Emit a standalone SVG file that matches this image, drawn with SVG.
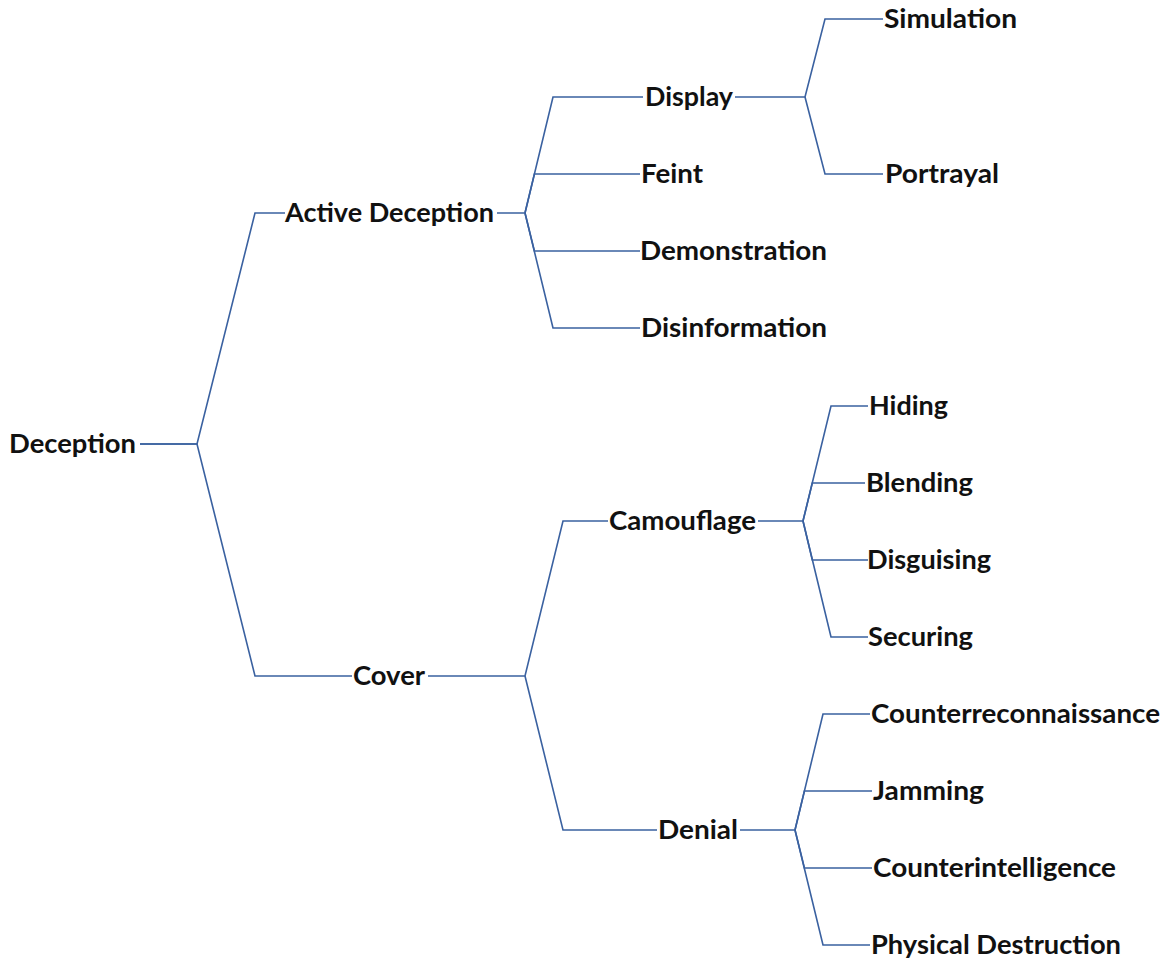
<svg xmlns="http://www.w3.org/2000/svg" width="1167" height="961" viewBox="0 0 1167 961">
<style>
.lbl{font-family:"Lato","Liberation Sans",sans-serif;font-weight:bold;font-size:27px;fill:#111111}
.cn{fill:none;stroke:#3A61A0;stroke-width:1.6;stroke-linejoin:miter}
</style>
<rect width="1167" height="961" fill="#ffffff"/>
<g id="connectors">
<path class="cn" d="M140,444 H197 L255,213 H285"/>
<path class="cn" d="M140,444 H197 L255,676 H352"/>
<path class="cn" d="M497,213 H525 L553,97 H643"/>
<path class="cn" d="M525,213 L534.4,174 H640"/>
<path class="cn" d="M525,213 L534.4,251 H640"/>
<path class="cn" d="M525,213 L553,328 H640"/>
<path class="cn" d="M735,97 H805 L825,19 H883"/>
<path class="cn" d="M805,97 L825,174 H883"/>
<path class="cn" d="M428,676 H525 L563,521 H608"/>
<path class="cn" d="M525,676 L563,830 H657"/>
<path class="cn" d="M758,521 H803 L831,406 H868"/>
<path class="cn" d="M803,521 L812.3,483 H865"/>
<path class="cn" d="M803,521 L812.3,560 H868"/>
<path class="cn" d="M803,521 L831,637 H868"/>
<path class="cn" d="M740,830 H795 L823,714 H870"/>
<path class="cn" d="M795,830 L804.4,791 H872"/>
<path class="cn" d="M795,830 L804.4,868 H872"/>
<path class="cn" d="M795,830 L823,945 H870"/>
</g>
<g id="n-deception"><text class="lbl" x="9" y="453" textLength="127" lengthAdjust="spacingAndGlyphs">Deception</text></g>
<g id="n-active"><text class="lbl" x="285" y="222" textLength="209" lengthAdjust="spacingAndGlyphs">Active Deception</text></g>
<g id="n-display"><text class="lbl" x="645" y="106" textLength="88" lengthAdjust="spacingAndGlyphs">Display</text></g>
<g id="n-simulation"><text class="lbl" x="884" y="28" textLength="133" lengthAdjust="spacingAndGlyphs">Simulation</text></g>
<g id="n-portrayal"><text class="lbl" x="885" y="183" textLength="114" lengthAdjust="spacingAndGlyphs">Portrayal</text></g>
<g id="n-feint"><text class="lbl" x="641" y="183" textLength="62" lengthAdjust="spacingAndGlyphs">Feint</text></g>
<g id="n-demonstration"><text class="lbl" x="640" y="260" textLength="187" lengthAdjust="spacingAndGlyphs">Demonstration</text></g>
<g id="n-disinformation"><text class="lbl" x="641" y="337" textLength="186" lengthAdjust="spacingAndGlyphs">Disinformation</text></g>
<g id="n-cover"><text class="lbl" x="353" y="685" textLength="72" lengthAdjust="spacingAndGlyphs">Cover</text></g>
<g id="n-camouflage"><text class="lbl" x="609" y="530" textLength="147" lengthAdjust="spacingAndGlyphs">Camouflage</text></g>
<g id="n-hiding"><text class="lbl" x="869" y="415" textLength="79" lengthAdjust="spacingAndGlyphs">Hiding</text></g>
<g id="n-blending"><text class="lbl" x="866" y="492" textLength="107" lengthAdjust="spacingAndGlyphs">Blending</text></g>
<g id="n-disguising"><text class="lbl" x="867" y="569" textLength="124" lengthAdjust="spacingAndGlyphs">Disguising</text></g>
<g id="n-securing"><text class="lbl" x="868" y="646" textLength="105" lengthAdjust="spacingAndGlyphs">Securing</text></g>
<g id="n-denial"><text class="lbl" x="658" y="839" textLength="80" lengthAdjust="spacingAndGlyphs">Denial</text></g>
<g id="n-counterrecon"><text class="lbl" x="871" y="723" textLength="289" lengthAdjust="spacingAndGlyphs">Counterreconnaissance</text></g>
<g id="n-jamming"><text class="lbl" x="873" y="800" textLength="111" lengthAdjust="spacingAndGlyphs">Jamming</text></g>
<g id="n-counterintel"><text class="lbl" x="873" y="877" textLength="243" lengthAdjust="spacingAndGlyphs">Counterintelligence</text></g>
<g id="n-physical"><text class="lbl" x="871" y="954" textLength="250" lengthAdjust="spacingAndGlyphs">Physical Destruction</text></g>
</svg>
